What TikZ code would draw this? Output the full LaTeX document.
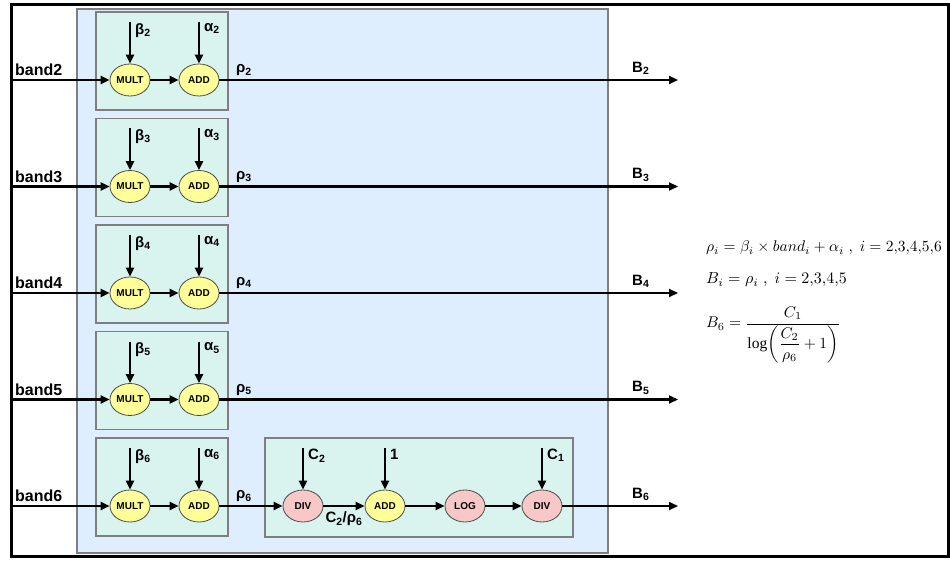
\documentclass[tikz,border=0pt]{standalone}
\usepackage{fontspec}
\setmainfont{Liberation Sans}
\newfontfamily\serifrm{Liberation Serif}
\usetikzlibrary{arrows.meta,shapes.geometric}
\definecolor{bgblue}{HTML}{DFEEFE}
\definecolor{boxgreen}{HTML}{D9F4EF}
\definecolor{cyellow}{HTML}{FFFF99}
\definecolor{cpink}{HTML}{F8C8C8}
\definecolor{bordergray}{HTML}{7F7F7F}
\begin{document}
\begin{tikzpicture}[x=1pt,y=-1pt,
  flow/.style={line width=2.2pt,-{Triangle[length=9pt,width=8pt]}},
  opnode/.style={ellipse,draw=black!70,line width=0.8pt,minimum width=40pt,minimum height=32pt,inner sep=0pt,font=\bfseries\fontsize{10}{10}\selectfont},
  yop/.style={opnode,fill=cyellow},
  pop/.style={opnode,fill=cpink},
  gbox/.style={draw=bordergray,line width=1.2pt,fill=boxgreen},
  lbl/.style={font=\bfseries\fontsize{15}{15}\selectfont,inner sep=0pt},
  bandlbl/.style={font=\bfseries\fontsize{16}{16}\selectfont,inner sep=0pt,anchor=south west},
  formula/.style={anchor=west,inner sep=0pt}
]
\useasboundingbox (0,0) rectangle (950,561);
\fill[white] (0,0) rectangle (950,561);
\draw[line width=3pt] (11.5,4.5) rectangle (948.5,556.5);
\draw[draw=bordergray,line width=1.2pt,fill=bgblue] (77,9) rectangle (608,553);

\foreach \i/\y in {2/80,3/186.5,4/293,5/399.5,6/506}{
  \draw[gbox] (96,\y-68) rectangle (228,\y+30);
  \node[yop] (mult\i) at (130,\y) {MULT};
  \node[yop] (add\i) at (199,\y) {ADD};
  \coordinate (in\i) at (12,\y);
  \coordinate (bt\i) at (130,\y-58);
  \coordinate (at\i) at (199,\y-58);
  \node[bandlbl] (band\i) at (15,\y-4) {band\i};
  \draw[flow] (in\i) -- (mult\i);
  \draw[flow] (mult\i) -- (add\i);
  \draw[flow] (bt\i) -- (mult\i);
  \draw[flow] (at\i) -- (add\i);
  \node[lbl,anchor=north west] (bl\i) at (135,\y-57) {β\textsubscript{\i}};
  \node[lbl,anchor=north west] (al\i) at (204,\y-57) {α\textsubscript{\i}};
  \node[lbl,anchor=south west] (rl\i) at (236,\y-4) {ρ\textsubscript{\i}};
  \coordinate (out\i) at (678,\y);
  \node[lbl,anchor=south west] (Bl\i) at (632,\y-5) {B\textsubscript{\i}};
}
\foreach \i in {2,3,4,5}{
  \draw[flow] (add\i) -- (out\i);
}

% band6 chain
\draw[gbox] (265,438) rectangle (573,537);
\node[pop] (div1) at (303,506) {DIV};
\node[yop] (add7) at (385,506) {ADD};
\node[pop] (log) at (465,506) {LOG};
\node[pop] (div2) at (542,506) {DIV};
\coordinate (ct2) at (303,448);
\coordinate (ct1) at (385,448);
\coordinate (ct3) at (542,448);
\draw[flow] (add6) -- (div1);
\draw[flow] (div1) -- (add7);
\draw[flow] (add7) -- (log);
\draw[flow] (log) -- (div2);
\draw[flow] (div2) -- (out6);
\draw[flow] (ct2) -- (div1);
\draw[flow] (ct1) -- (add7);
\draw[flow] (ct3) -- (div2);
\node[lbl,anchor=north west] (c2l) at (308,449) {C\textsubscript{2}};
\node[lbl,anchor=north west] (onel) at (390,449) {1};
\node[lbl,anchor=north west] (c1l) at (547,449) {C\textsubscript{1}};
\node[lbl] (ratio) at (344,519) {C\textsubscript{2}/ρ\textsubscript{6}};

% formulas
\node[formula] (f1) at (706,248)
  {\scalebox{1.55}{$\rho_i=\beta_i\times band_i+\alpha_i\ ,\ i=2{,}3{,}4{,}5{,}6$}};
\node[formula] (f2) at (706,280)
  {\scalebox{1.6}{$B_i=\rho_i\ ,\ i=2{,}3{,}4{,}5$}};
\node[formula] (f3) at (706,335)
  {\scalebox{1.55}{$\displaystyle B_6=\frac{C_1}{\mathop{\hbox{\serifrm log}}\!\left(\displaystyle\frac{C_2}{\rho_6}+1\right)}$}};
\end{tikzpicture}
\end{document}
